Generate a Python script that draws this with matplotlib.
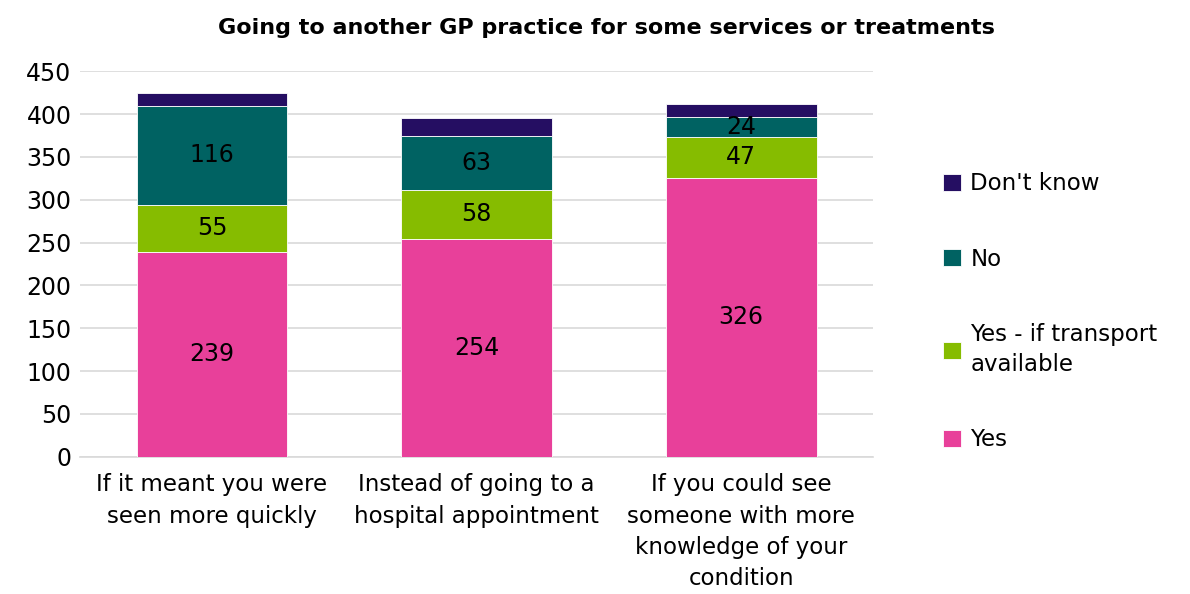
import matplotlib.pyplot as plt
import numpy as np

categories = ['If it meant you were\nseen more quickly',
              'Instead of going to a\nhospital appointment',
              'If you could see\nsomeone with more\nknowledge of your\ncondition']
yes = [239, 254, 326]
yes_transport = [55, 58, 47]
no = [116, 63, 24]
dont_know = [15, 20, 15]

series = [('Yes', yes, '#E8409A'),
          ('Yes - if transport\navailable', yes_transport, '#86BC00'),
          ('No', no, '#006262'),
          ("Don't know", dont_know, '#250E62')]
labelled = {'Yes', 'Yes - if transport\navailable', 'No'}

plt.rcParams['font.family'] = ['DejaVu Sans']

fig = plt.figure(figsize=(11.9, 5.94), dpi=100)
ax = fig.add_axes([0.067, 0.231, 0.667, 0.649])

x = np.arange(len(categories))
bottom = np.zeros(len(categories))
handles = []
for name, vals, col in series:
    vals = np.array(vals)
    b = ax.bar(x, vals, 0.57, bottom=bottom, color=col, edgecolor='white',
               linewidth=0.6, label=name, zorder=3)
    handles.append(b)
    if name in labelled:
        for xi, bt, v in zip(x, bottom, vals):
            ax.text(xi, bt + v / 2, str(v), ha='center', va='center',
                    fontsize=17, color='black', zorder=4)
    bottom += vals

ax.set_xlim(-0.5, 2.5)
ax.set_ylim(0, 450)
ax.set_yticks(range(0, 451, 50))
ax.set_xticks(x)
ax.set_xticklabels(categories, fontsize=16.5, linespacing=1.45)
ax.tick_params(axis='y', labelsize=17, length=0, pad=6)
ax.tick_params(axis='x', length=0, pad=12)
ax.grid(axis='y', color='#D9D9D9', linewidth=1.2, zorder=0)
for s in ['top', 'right', 'left']:
    ax.spines[s].set_visible(False)
ax.spines['bottom'].set_color('#D9D9D9')
ax.spines['bottom'].set_linewidth(1.2)

fig.suptitle('Going to another GP practice for some services or treatments',
             fontsize=16, fontweight='bold', x=0.51, y=0.97)

leg = fig.legend(handles[::-1], [s[0] for s in series][::-1],
                 loc='center left', bbox_to_anchor=(0.775, 0.475), frameon=False,
                 fontsize=16.5, handlelength=0.8, handleheight=0.8,
                 handletextpad=0.4, labelspacing=2.28)
for t in leg.get_texts():
    t.set_linespacing(1.4)

fig.savefig('out.png', dpi=100)
